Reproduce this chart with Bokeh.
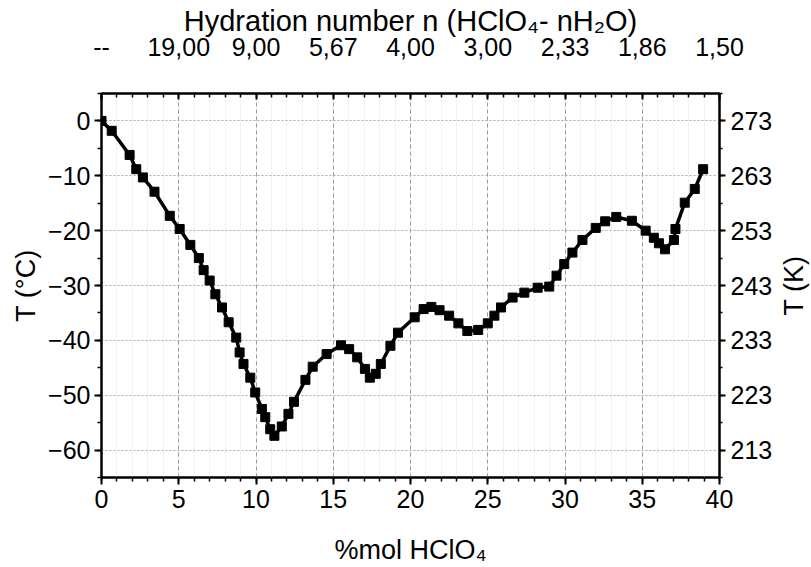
import math
from bokeh.plotting import figure
from bokeh.models import LinearAxis, Range1d, FixedTicker
from bokeh.layouts import row
from bokeh.core.properties import value
from bokeh.embed import file_html
from bokeh.resources import INLINE

# ---- data ----
x_pct = [0, 0.66, 1.82, 2.25, 2.68, 3.43, 4.42, 5.06, 5.75, 6.3, 6.61, 7.0, 7.37, 7.8,
         8.23, 8.72, 8.94, 9.19, 9.63, 9.95, 10.38, 10.6, 10.92, 11.19, 11.67, 12.1,
         12.46, 13.2, 13.67, 14.57, 15.5, 16.03, 16.55, 17.05, 17.37, 17.75, 18.08,
         18.7, 19.19, 20.27, 20.85, 21.35, 21.88, 22.5, 23.1, 23.68, 24.38, 25.0,
         25.43, 25.86, 26.61, 27.37, 28.23, 28.98, 29.45, 29.95, 30.48, 31.13, 31.99,
         32.6, 33.32, 34.33, 35.22, 35.75, 36.08, 36.47, 37.05, 37.15, 37.75, 38.4, 38.94]
t_celsius = [0, -1.8, -6.2, -8.8, -10.3, -12.9, -17.3, -19.7, -22.6, -25.0, -27.2, -29.1,
             -31.6, -34.0, -36.7, -39.5, -42.2, -44.3, -46.8, -49.5, -52.5, -54.0, -56.2,
             -57.4, -55.7, -53.4, -51.2, -47.2, -44.8, -42.5, -40.9, -41.6, -43.1, -45.2,
             -46.8, -46.1, -44.3, -41.0, -38.6, -35.8, -34.3, -33.9, -34.5, -35.5, -36.9,
             -38.3, -38.1, -36.9, -35.5, -34.0, -32.2, -31.3, -30.4, -30.2, -28.2, -26.1,
             -24.0, -21.7, -19.5, -18.3, -17.5, -18.2, -20.0, -21.3, -22.3, -23.4, -21.7,
             -19.7, -14.9, -12.4, -8.8]

x_ticks = [0, 5, 10, 15, 20, 25, 30, 35, 40]
hydration_labels = ["--", "19,00", "9,00", "5,67", "4,00", "3,00", "2,33", "1,86", "1,50"]
c_ticks = [0, -10, -20, -30, -40, -50, -60]
k_ticks = [273, 263, 253, 243, 233, 223, 213]

FONT = "Liberation Sans"
TICK_SIZE = "25px"
LABEL_SIZE = "27px"
TITLE_SIZE = "29px"

p = figure(width=775, height=567, output_backend="svg", toolbar_location=None,
           x_range=Range1d(0, 40), y_range=Range1d(-65, 5),
           min_border_left=101, min_border_right=55, min_border_top=93, min_border_bottom=90,
           x_axis_label="%mol HClO₄", y_axis_label="T (°C)")
p.background_fill_color = "white"
p.border_fill_color = "white"
p.outline_line_color = "black"
p.outline_line_width = 2

bottom = p.below[0]
left = p.left[0]

x_ticker = FixedTicker(ticks=x_ticks, minor_ticks=list(range(0, 41)))
y_ticker = FixedTicker(ticks=c_ticks, minor_ticks=list(range(-65, 6, 5)))

bottom.ticker = x_ticker
left.ticker = y_ticker

# grids
p.xgrid.ticker = x_ticker
p.xgrid.grid_line_color = "#9a9a9a"
p.xgrid.grid_line_dash = "4 3"
p.xgrid.grid_line_width = 1
p.xgrid.minor_grid_line_color = "#e6e6e6"
p.xgrid.minor_grid_line_dash = "2 2"
p.ygrid.ticker = FixedTicker(ticks=c_ticks)
p.ygrid.grid_line_color = "#a8a8a8"
p.ygrid.grid_line_dash = "2 2"
p.ygrid.grid_line_width = 1

# right axis (Kelvin)
p.extra_y_ranges = {"K": Range1d(208, 278)}
right = LinearAxis(y_range_name="K",
                   ticker=FixedTicker(ticks=k_ticks, minor_ticks=list(range(208, 279, 5))))
p.add_layout(right, "right")

# top axis (hydration number)
top = LinearAxis(axis_label="Hydration number n (HClO₄- nH₂O)", ticker=x_ticker,
                 major_label_overrides={t: s for t, s in zip(x_ticks, hydration_labels)})
p.add_layout(top, "above")

for ax in (bottom, left, right, top):
    ax.axis_line_color = "black"
    ax.axis_line_width = 2
    ax.major_tick_line_color = "black"
    ax.minor_tick_line_color = "black"
    ax.major_tick_line_width = 2
    ax.minor_tick_line_width = 1.5
    ax.major_label_text_font = FONT
    ax.major_label_text_font_size = TICK_SIZE
    ax.major_label_text_color = "black"
    ax.axis_label_text_font = FONT
    ax.axis_label_text_font_size = LABEL_SIZE
    ax.axis_label_text_font_style = "normal"
    ax.axis_label_text_color = "black"

# bottom
bottom.major_tick_in = 0
bottom.major_tick_out = 7
bottom.minor_tick_in = 0
bottom.minor_tick_out = 4
bottom.major_label_standoff = 5
bottom.axis_label_standoff = 24
# left
left.major_tick_in = 0
left.major_tick_out = 7
left.minor_tick_in = 0
left.minor_tick_out = 4
left.major_label_standoff = 4
left.axis_label_standoff = 4
# right
right.major_tick_in = 0
right.major_tick_out = 6
right.minor_tick_in = 0
right.minor_tick_out = 3
right.major_label_standoff = 5
# top
top.major_tick_in = 6
top.major_tick_out = 0
top.minor_tick_in = 4
top.minor_tick_out = 0
top.major_label_standoff = 38
top.axis_label_standoff = -2
top.axis_label_text_font_size = TITLE_SIZE

p.line(x_pct, t_celsius, line_color="black", line_width=3.5)
p.scatter(x_pct, t_celsius, marker="square", size=9, fill_color="black", line_color="black")

# narrow strip holding the right-hand axis title, reading bottom-to-top
q = figure(width=36, height=567, output_backend="svg", toolbar_location=None,
           x_range=Range1d(0, 1), y_range=Range1d(-65, 5),
           x_axis_type=None, y_axis_type=None,
           min_border_left=0, min_border_right=0, min_border_top=93, min_border_bottom=90)
q.outline_line_color = None
q.grid.visible = False
q.background_fill_color = "white"
q.border_fill_color = "white"
q.text(x=[0.5], y=[-30], text=["T (K)"], angle=math.pi / 2,
       text_align="center", text_baseline="middle",
       text_font=value(FONT), text_font_size=value(LABEL_SIZE), text_color="black")

layout = row(p, q, spacing=0)
open("out.html", "w").write(file_html(layout, INLINE))
